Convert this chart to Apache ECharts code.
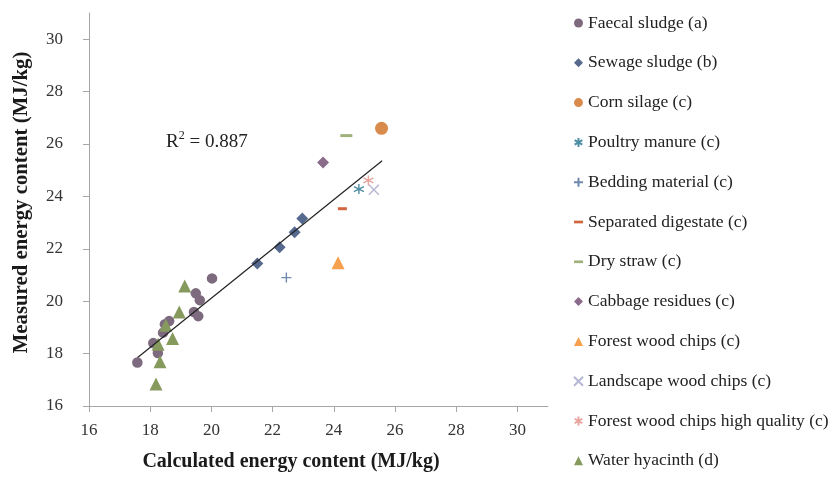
<!DOCTYPE html>
<html>
<head>
<meta charset="utf-8">
<script src="https://cdn.jsdelivr.net/npm/echarts@6/dist/echarts.min.js"></script>
<style>html,body{margin:0;padding:0;background:#fff}#c{width:835px;height:477px}</style>
</head>
<body>
<div id="c"></div>
<script>
const xTicks = [16, 18, 20, 22, 24, 26, 28, 30];
const yTicks = [16, 18, 20, 22, 24, 26, 28, 30];

const faecalSludge = [[17.58,17.66],[18.10,18.40],[18.25,18.02],[18.42,18.80],[18.48,19.12],[18.62,19.24],[19.43,19.59],[19.57,19.43],[19.49,20.30],[19.62,20.04],[20.02,20.87]];
const sewageSludge = [[21.50,21.44],[22.23,22.06],[22.72,22.63],[22.97,23.16]];
const cornSilage = [[25.56,26.60]];
const poultryManure = [[24.82,24.28]];
const beddingMaterial = [[22.45,20.90]];
const separatedDigestate = [[24.28,23.53]];
const dryStraw = [[24.41,26.32]];
const cabbageResidues = [[23.65,25.29]];
const forestWoodChips = [[24.14,21.47]];
const landscapeWoodChips = [[25.31,24.25]];
const forestWoodChipsHQ = [[25.13,24.61]];
const waterHyacinth = [[19.13,20.58],[18.95,19.59],[18.51,19.08],[18.73,18.58],[18.26,18.36],[18.32,17.69],[18.19,16.84]];

const trendSlope = 0.94;
const trendIntercept = 1.316;
const trendRange = [17.59, 25.58];
const r2Text = '0.887';

const SERIF = '"Liberation Serif", "Times New Roman", serif';
const ASTER = 'path://M5,0L5,10M0.7,2.5L9.3,7.5M0.7,7.5L9.3,2.5';
const PLUS = 'path://M0,5L10,5M5,0L5,10';
const CROSS = 'path://M0,0L10,10M0,10L10,0';
const DASH_LEGEND = 'path://M0,-3.5L0,-3.5M0,6.5L0,6.5M0,0L10,0L10,3L0,3Z';

function filled(name, data, symbol, size, color) {
  return { name, type: 'scatter', data, symbol, symbolSize: size,
    itemStyle: { color, opacity: 1 }, emphasis: { disabled: true }, z: 3 };
}
function stroked(name, data, symbol, size, color) {
  return { name, type: 'scatter', data, symbol, symbolSize: size,
    itemStyle: { color: 'rgba(0,0,0,0)', borderColor: color, borderWidth: 1.4, opacity: 1 },
    emphasis: { disabled: true }, z: 3 };
}

const series = [
  filled('Faecal sludge (a)', faecalSludge, 'circle', 10.5, '#7D6A7E'),
  filled('Sewage sludge (b)', sewageSludge, 'diamond', 12, '#56698E'),
  filled('Corn silage (c)', cornSilage, 'circle', 13, '#D98B4B'),
  stroked('Poultry manure (c)', poultryManure, ASTER, 10, '#4E8FA5'),
  stroked('Bedding material (c)', beddingMaterial, PLUS, 10, '#6F88AD'),
  filled('Separated digestate (c)', separatedDigestate, 'rect', [9, 3], '#D2663E'),
  filled('Dry straw (c)', dryStraw, 'rect', [12, 3], '#A0B27B'),
  filled('Cabbage residues (c)', cabbageResidues, 'diamond', 12, '#8A6C8A'),
  filled('Forest wood chips (c)', forestWoodChips, 'triangle', 13, '#F6A04D'),
  stroked('Landscape wood chips (c)', landscapeWoodChips, CROSS, 10, '#B5B7D4'),
  stroked('Forest wood chips high quality (c)', forestWoodChipsHQ, ASTER, 10, '#E8A59F'),
  filled('Water hyacinth (d)', waterHyacinth, 'triangle', 13, '#879A5E')
];
const legendData = series.map(s => s.symbol === 'rect' ? { name: s.name, icon: DASH_LEGEND } : { name: s.name });

series.push({
  name: 'trend', type: 'line', showSymbol: false, symbol: 'none', silent: true,
  data: trendRange.map(x => [x, trendSlope * x + trendIntercept]),
  lineStyle: { color: '#222', width: 1.2 }, z: 4, emphasis: { disabled: true }
});

const axisCommon = {
  type: 'value', min: 16, max: 31, interval: 2,
  axisLine: { show: true, lineStyle: { color: '#A6A6A6', width: 1 } },
  axisTick: { show: true, length: 6, lineStyle: { color: '#A6A6A6' } },
  splitLine: { show: false },
  nameTextStyle: { fontFamily: SERIF, fontWeight: 'bold', fontSize: 20, color: '#1a1a1a' }
};

const chart = echarts.init(document.getElementById('c'), null, { renderer: 'canvas' });
chart.setOption({
  animation: false,
  backgroundColor: '#fff',
  grid: { left: 89, right: 287, top: 13, bottom: 70, containLabel: false },
  xAxis: Object.assign({}, axisCommon, {
    name: 'Calculated energy content (MJ/kg)', nameLocation: 'middle', nameGap: 46,
    nameTextStyle: Object.assign({}, axisCommon.nameTextStyle, { padding: [0, 55, 0, 0] }),
    axisTick: Object.assign({}, axisCommon.axisTick, { customValues: xTicks }),
    axisLabel: { customValues: xTicks, margin: 16, fontFamily: SERIF, fontSize: 17, color: '#333' }
  }),
  yAxis: Object.assign({}, axisCommon, {
    name: 'Measured energy content (MJ/kg)', nameLocation: 'middle', nameGap: 57,
    nameTextStyle: Object.assign({}, axisCommon.nameTextStyle, { fontSize: 20.8, padding: [0, 0, 0, 14] }),
    axisTick: Object.assign({}, axisCommon.axisTick, { customValues: yTicks }),
    axisLabel: { customValues: yTicks, margin: 26, fontFamily: SERIF, fontSize: 17, color: '#333' }
  }),
  legend: {
    orient: 'vertical', left: 573, top: 14, height: 463, padding: 0,
    itemWidth: 9, itemHeight: 9, itemGap: 21.8,
    data: legendData, selectedMode: false,
    textStyle: { fontFamily: SERIF, fontSize: 17.5, color: '#222', lineHeight: 17.5 }
  },
  graphic: [{
    type: 'text', left: 166, top: 130,
    style: {
      text: '{a|R}{s|2}{a| = ' + r2Text + '}',
      rich: {
        a: { fontFamily: SERIF, fontSize: 19, fill: '#222', verticalAlign: 'bottom', lineHeight: 22 },
        s: { fontFamily: SERIF, fontSize: 12, fill: '#222', verticalAlign: 'top', lineHeight: 22, padding: [0, 0, 7, 0] }
      }
    }
  }],
  series
});
</script>
</body>
</html>
